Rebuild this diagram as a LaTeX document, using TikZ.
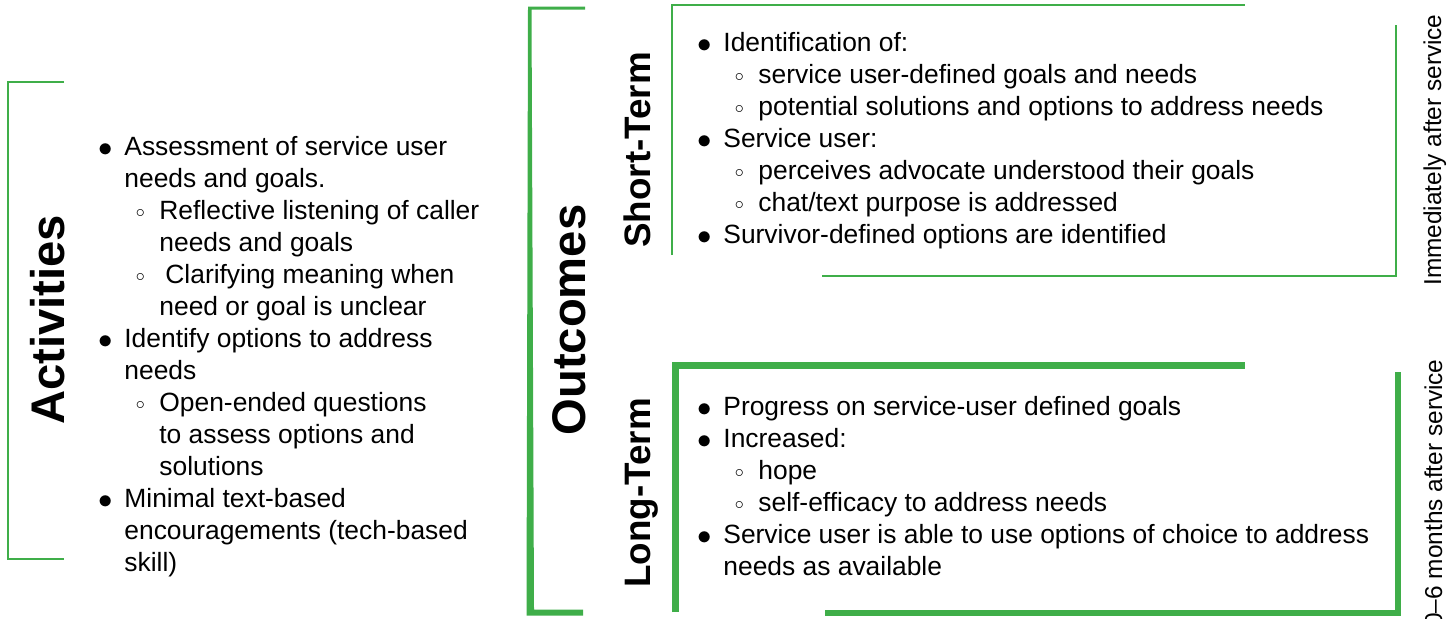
\documentclass[tikz,border=0pt]{standalone}
\usepackage{fontspec}
\setmainfont{Liberation Sans}
\usetikzlibrary{arrows,shapes}
\definecolor{lmgreen}{RGB}{63,174,73}
\tikzstyle{heading}=[rotate=90,anchor=base,inner sep=0pt,font=\bfseries\fontsize{23.6}{28}\selectfont]
\tikzstyle{subheading}=[rotate=90,anchor=base,inner sep=0pt,font=\bfseries\fontsize{18.4}{22}\selectfont]
\tikzstyle{timing}=[rotate=90,anchor=base,inner sep=0pt,font=\fontsize{12.2}{15}\selectfont]
\tikzstyle{itemlist}=[anchor=base west,inner sep=0pt,font=\fontsize{13.2}{16}\selectfont]
\tikzstyle{thinbracket}=[draw=lmgreen,line width=1.25pt]
\tikzstyle{thickbracket}=[draw=lmgreen,line width=3.5pt]

\newcommand{\bul}{\raisebox{-0.6pt}{\scalebox{1.2}{$\bullet$}}}
\newcommand{\sbul}{\hspace{5.7pt}\raisebox{0.9pt}{\scalebox{0.75}{$\circ$}}}
\newcommand{\main}[1]{\multicolumn{2}{@{}l@{}}{#1}}

\begin{document}
\begin{tikzpicture}[x=0.5pt,y=-0.5pt]

    \useasboundingbox (0,0) rectangle (1455,618);

    % titles, read from bottom to top
    \foreach \x/\y/\name/\txt in {64/320/act/Activities, 585/320/out/Outcomes}
        \node[heading] (\name) at (\x,\y) {\txt};
    \foreach \x/\y/\name/\txt in {650/150/short/Short-Term, 650/493/long/Long-Term}
        \node[subheading] (\name) at (\x,\y) {\txt};
    \foreach \x/\y/\name/\txt in {1441/150/now/Immediately after service, 1442/493/later/0--6 months after service}
        \node[timing] (\name) at (\x,\y) {\txt};

    % brackets
    \draw[thinbracket] (64,82) -- (8,82) -- (8,559) -- (64,559);
    \fill[lmgreen] (585,6.5) -- (528,6.5) -- (526.5,615.5) -- (583,615.5) -- (583,609.5)
        -- (534,609.5) -- (531.5,9.5) -- (585,9.5) -- cycle;
    \draw[thinbracket] (672,255) -- (672,5) -- (1245,5);
    \draw[thinbracket] (1396,25) -- (1396,276) -- (822,276);
    \draw[thickbracket] (675,612) -- (675,365) -- (1245,365);
    \draw[draw=lmgreen, line width=3pt] (1398,372) -- (1398,613) -- (825,613);

    % lists
    \node[itemlist] (actlist) at (98.1,155) {\begin{tabular}[t]{@{}p{12.95pt}@{}p{17.5pt}@{}l@{}}
        \bul & \main{Assessment of service user}\\
             & \main{needs and goals.}\\
             & \sbul & Reflective listening of caller\\
             &       & needs and goals\\
             & \sbul & \hspace{3pt}Clarifying meaning when\\
             &       & need or goal is unclear\\
        \bul & \main{Identify options to address}\\
             & \main{needs}\\
             & \sbul & Open-ended questions\\
             &       & to assess options and\\
             &       & solutions\\
        \bul & \main{Minimal text-based}\\
             & \main{encouragements (tech-based}\\
             & \main{skill)}\\
    \end{tabular}};

    \node[itemlist] (shortlist) at (697.1,51) {\begin{tabular}[t]{@{}p{12.95pt}@{}p{17.5pt}@{}l@{}}
        \bul & \main{Identification of:}\\
             & \sbul & service user-defined goals and needs\\
             & \sbul & potential solutions and options to address needs\\
        \bul & \main{Service user:}\\
             & \sbul & perceives advocate understood their goals\\
             & \sbul & chat/text purpose is addressed\\
        \bul & \main{Survivor-defined options are identified}\\
    \end{tabular}};

    \node[itemlist] (longlist) at (697.1,415) {\begin{tabular}[t]{@{}p{12.95pt}@{}p{17.5pt}@{}l@{}}
        \bul & \main{Progress on service-user defined goals}\\
        \bul & \main{Increased:}\\
             & \sbul & hope\\
             & \sbul & self-efficacy to address needs\\
        \bul & \main{Service user is able to use options of choice to address}\\
             & \main{needs as available}\\
    \end{tabular}};

\end{tikzpicture}
\end{document}
